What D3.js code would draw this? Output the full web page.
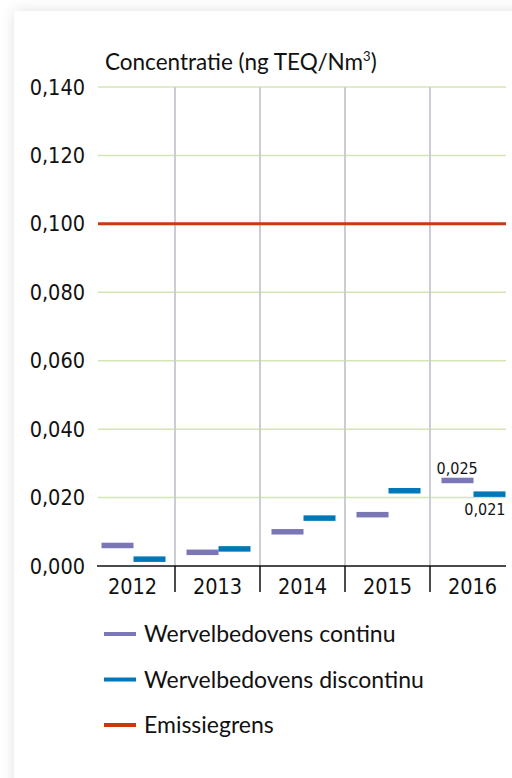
<!DOCTYPE html>
<html>
<head>
<meta charset="utf-8">
<script src="https://cdn.jsdelivr.net/npm/d3@7"></script>
<style>
  html, body { margin: 0; padding: 0; background: #fff; overflow: hidden; }
  #card {
    position: absolute; left: 14px; top: 11px; width: 520px; height: 800px;
    background: #fff; box-shadow: 0 0 14px rgba(0,0,0,0.12);
  }
  svg { position: absolute; left: 0; top: 0; }
  .cond { font-family: "Liberation Sans Narrow", "DejaVu Sans Condensed", sans-serif; }
</style>
</head>
<body>
<div id="card"></div>
<div id="viz"></div>
<script>
const years = ["2012", "2013", "2014", "2015", "2016"];
const continu = [0.006, 0.004, 0.010, 0.015, 0.025];
const discontinu = [0.002, 0.005, 0.014, 0.022, 0.021];
const limit = 0.100;
const yTicks = [0, 0.02, 0.04, 0.06, 0.08, 0.10, 0.12, 0.14];
const legendItems = [
    {name: "Wervelbedovens continu", color: "#7b76b6"},
    {name: "Wervelbedovens discontinu", color: "#0077b6"},
    {name: "Emissiegrens", color: "#c8390f"}
];

const width = 512, height = 778;
const svg = d3.select("#viz").append("svg")
    .attr("width", width)
    .attr("height", height);

const x = d3.scaleBand().domain(years).range([90, 515]);
const y = d3.scaleLinear().domain([0, 0.14]).range([566, 87]);
const fmt = v => d3.format(".3f")(v).replace(".", ",");

// horizontal gridlines
svg.selectAll(".hgrid")
    .data(yTicks.filter(d => d > 0))
    .enter().append("line")
    .attr("x1", 98).attr("x2", 506)
    .attr("y1", d => y(d)).attr("y2", d => y(d))
    .attr("stroke", "#d5e6b3").attr("stroke-width", 1.5);

// vertical gridlines between categories
const bounds = years.slice(1).map(d => x(d));
svg.selectAll(".vgrid")
    .data(bounds)
    .enter().append("line")
    .attr("x1", d => d).attr("x2", d => d)
    .attr("y1", y(0.14)).attr("y2", y(0))
    .attr("stroke", "#c9ced5").attr("stroke-width", 2);

// y labels
svg.selectAll(".ylab")
    .data(yTicks)
    .enter().append("text")
    .attr("class", "cond")
    .attr("x", 85).attr("y", d => y(d) + 7.5)
    .attr("text-anchor", "end")
    .attr("font-size", 21.5).attr("fill", "#111")
    .text(fmt);

// title
const title = svg.append("text")
    .attr("x", 105).attr("y", 70)
    .attr("font-family", "Lato, sans-serif")
    .attr("font-size", 22.5).attr("fill", "#111");
title.append("tspan").text("Concentratie (ng TEQ/Nm");
title.append("tspan").attr("font-size", 13).attr("dy", -9).text("3");
title.append("tspan").attr("dy", 9).text(")");

// limit line
svg.append("line")
    .attr("x1", 98).attr("x2", 506)
    .attr("y1", y(limit)).attr("y2", y(limit))
    .attr("stroke", "#c8390f").attr("stroke-width", 3);

// x axis
svg.append("line")
    .attr("x1", 97).attr("x2", 506)
    .attr("y1", y(0)).attr("y2", y(0))
    .attr("stroke", "#111").attr("stroke-width", 1.5);
svg.selectAll(".xtick")
    .data(bounds)
    .enter().append("line")
    .attr("x1", d => d).attr("x2", d => d)
    .attr("y1", y(0)).attr("y2", y(0) + 26)
    .attr("stroke", "#111").attr("stroke-width", 1.5);
svg.selectAll(".xlab")
    .data(years)
    .enter().append("text")
    .attr("class", "cond")
    .attr("x", d => x(d) + x.bandwidth() / 2)
    .attr("y", 594)
    .attr("text-anchor", "middle")
    .attr("font-size", 21.5).attr("fill", "#111")
    .text(d => d);

// markers
const mw = 32, mh = 5.5;
svg.selectAll(".cont")
    .data(years)
    .enter().append("rect")
    .attr("x", d => x(d) + x.bandwidth() / 2 - mw + 1)
    .attr("y", (d, i) => y(continu[i]) - mh / 2)
    .attr("width", mw).attr("height", mh)
    .attr("fill", "#7b76b6");
svg.selectAll(".disc")
    .data(years)
    .enter().append("rect")
    .attr("x", d => x(d) + x.bandwidth() / 2 + 1)
    .attr("y", (d, i) => y(discontinu[i]) - mh / 2)
    .attr("width", mw).attr("height", mh)
    .attr("fill", "#0077b6");

// value labels for last year
const last = years.length - 1;
svg.append("text").attr("class", "cond")
    .attr("x", x(years[last]) + x.bandwidth() / 2 - mw - 4)
    .attr("y", y(continu[last]) - 6)
    .attr("font-size", 16).attr("fill", "#111")
    .text(fmt(continu[last]));
svg.append("text").attr("class", "cond")
    .attr("x", x(years[last]) + x.bandwidth() / 2 + 1 + mw)
    .attr("y", y(discontinu[last]) + 21)
    .attr("text-anchor", "end")
    .attr("font-size", 16).attr("fill", "#111")
    .text(fmt(discontinu[last]));

// legend
const leg = svg.selectAll(".leg")
    .data(legendItems)
    .enter().append("g")
    .attr("transform", (d, i) => `translate(104, ${634 + i * 45.5})`);
leg.append("line")
    .attr("x1", 0).attr("x2", 32)
    .attr("stroke", d => d.color).attr("stroke-width", 4);
leg.append("text")
    .attr("x", 40).attr("y", 8)
    .attr("font-family", "Lato, sans-serif")
    .attr("font-size", 23).attr("fill", "#111")
    .text(d => d.name);
</script>
</body>
</html>
